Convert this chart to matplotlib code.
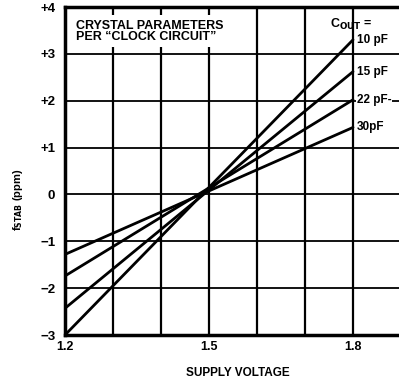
import matplotlib
matplotlib.use("Agg")
import matplotlib.pyplot as plt
import numpy as np

# Frequency stability vs supply voltage for several output capacitances
voltage_ends = [1.2, 1.8]
cout_labels = ["10 pF", "15 pF", "22 pF-", "30pF"]
fstab_10pf = [-3.00, 3.30]
fstab_15pf = [-2.43, 2.62]
fstab_22pf = [-1.74, 2.02]
fstab_30pf = [-1.28, 1.43]
series = [fstab_10pf, fstab_15pf, fstab_22pf, fstab_30pf]

y_ticks = [-3, -2, -1, 0, 1, 2, 3, 4]
y_tick_labels = ["\u22123", "\u22122", "\u22121", "0", "+1", "+2", "+3", "+4"]
x_ticks = [1.2, 1.5, 1.8]
x_tick_labels = ["1.2", "1.5", "1.8"]

plt.rcParams["font.family"] = ["Liberation Sans", "DejaVu Sans"]
plt.rcParams["font.weight"] = "bold"

fig = plt.figure(figsize=(3.99, 3.84), dpi=100)
ax = fig.add_axes([65 / 399, 49 / 384, 336 / 399, 328 / 384])
ax.set_xlim(1.2, 1.9)
ax.set_ylim(-3, 4)

# grid every 0.1 V and 1 ppm
for xv in np.arange(1.3, 1.85, 0.1):
    ax.axvline(xv, color="black", lw=1.6, zorder=1)
for yv in range(-2, 4):
    ax.axhline(yv, color="black", lw=1.3, zorder=1)

for vals in series:
    ax.plot(voltage_ends, vals, color="black", lw=2.0, zorder=3,
            solid_capstyle="round")

for lab, vals in zip(cout_labels, series):
    ax.text(voltage_ends[1] + 0.008, vals[1], lab, fontsize=8.5, fontweight="bold",
            ha="left", va="center", zorder=4,
            bbox=dict(facecolor="white", edgecolor="none", pad=0.5))

ax.text(1.752, 3.62, "C$_{\\mathbf{OUT}}$ =", fontsize=9, fontweight="bold",
        ha="left", va="center", zorder=4)

ax.text(1.223, 3.48, "CRYSTAL PARAMETERS\nPER \u201cCLOCK CIRCUIT\u201d",
        fontsize=9, fontweight="bold", ha="left", va="center",
        linespacing=0.95, zorder=4,
        bbox=dict(facecolor="white", edgecolor="none", pad=3))

for s in ax.spines.values():
    s.set_linewidth(2.5)
    s.set_zorder(5)

ax.set_xticks(x_ticks)
ax.set_xticklabels(x_tick_labels, fontsize=9, fontweight="bold")
ax.set_yticks(y_ticks)
ax.set_yticklabels(y_tick_labels, fontsize=9.5, fontweight="bold")
ax.tick_params(length=0)
ax.tick_params(axis="x", pad=4)
ax.tick_params(axis="y", pad=7)

fig.text(238 / 399, 1 - 373 / 384, "SUPPLY VOLTAGE", fontsize=8.5,
         fontweight="bold", ha="center", va="center")
fig.text(18 / 399, 1 - 200 / 384, "f$_{\\mathrm{STAB}}$ (ppm)", fontsize=8,
         fontweight="bold", rotation=90, ha="center", va="center")

fig.savefig("out.png", dpi=100)
